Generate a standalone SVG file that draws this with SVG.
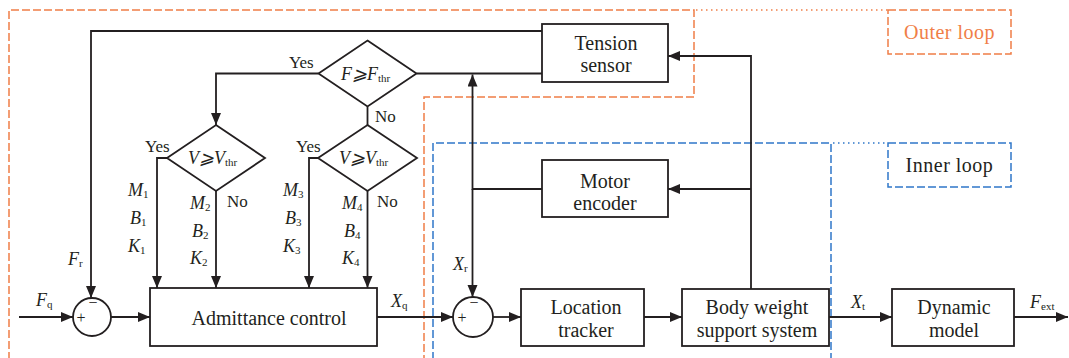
<svg xmlns="http://www.w3.org/2000/svg" width="1069" height="358" viewBox="0 0 1069 358" font-family="'Liberation Serif', Tinos, 'Noto Serif', 'DejaVu Serif', 'Times New Roman', Times, serif">
<defs>
<marker id="ah" markerUnits="userSpaceOnUse" markerWidth="13" markerHeight="11" refX="12" refY="5" orient="auto">
<path d="M0,0 L12,5 L0,10 z" fill="#231f20"/>
</marker>
<style>
.ln{fill:none;stroke:#231f20;stroke-width:1.8}
.bx{fill:#fff;stroke:#231f20;stroke-width:1.8}
.t{font-size:20px;fill:#231f20}
.s{font-size:17px;fill:#231f20}
.m{font-size:18px;font-style:italic;fill:#231f20}
.sub{font-style:normal;font-size:11px}
.or{fill:none;stroke:#f07e47;stroke-width:1.5;stroke-dasharray:8 3}
.ord{fill:none;stroke:#f07e47;stroke-width:1.5;stroke-dasharray:1.5 3.5}
.bl{fill:none;stroke:#2f77c9;stroke-width:1.5;stroke-dasharray:8 3}
.bld{fill:none;stroke:#2f77c9;stroke-width:1.5;stroke-dasharray:1.5 3.5}
</style>
</defs>
<rect width="1069" height="358" fill="#fff"/>

<g id="loops">
<path class="or" d="M9,360 V10 H694 V97 H424 V360"/>
<path class="ord" d="M696,10 H888"/>
<path class="bl" d="M433,360 V143 H831 V360"/>
<path class="bld" d="M833,143 H888"/>
</g>
<g id="outer-loop-label">
<rect class="or" x="888" y="10" width="123" height="44"/>
<text class="t" x="949.5" y="39" text-anchor="middle" style="fill:#f07e47;letter-spacing:0.5px">Outer loop</text>
</g>
<g id="inner-loop-label">
<rect class="bl" x="888" y="143" width="123" height="44"/>
<text class="t" x="949.5" y="172" text-anchor="middle" style="letter-spacing:0.5px">Inner loop</text>
</g>

<g id="connectors">
<path class="ln" d="M19,317 H73" marker-end="url(#ah)"/>
<path class="ln" d="M542,31 H91 V298" marker-end="url(#ah)"/>
<path class="ln" d="M111,317 H150" marker-end="url(#ah)"/>
<path class="ln" d="M416.5,73.5 H542"/>
<path class="ln" d="M318.5,73.5 H216 V125" marker-end="url(#ah)"/>
<path class="ln" d="M367.5,106.5 V125"/>
<path class="ln" d="M167,158 H157 V288" marker-end="url(#ah)"/>
<path class="ln" d="M216,191 V288" marker-end="url(#ah)"/>
<path class="ln" d="M318,158 H309 V288" marker-end="url(#ah)"/>
<path class="ln" d="M367.5,191 V288" marker-end="url(#ah)"/>
<path class="ln" d="M377,317 H453" marker-end="url(#ah)"/>
<path class="ln" d="M542,189 H472.5 V74.5" marker-end="url(#ah)"/>
<path class="ln" d="M472.5,189 V297" marker-end="url(#ah)"/>
<path class="ln" d="M493,317 H521" marker-end="url(#ah)"/>
<path class="ln" d="M644,317 H682" marker-end="url(#ah)"/>
<path class="ln" d="M751,289 V56 H668" marker-end="url(#ah)"/>
<path class="ln" d="M751,189 H668" marker-end="url(#ah)"/>
<path class="ln" d="M829,317 H892" marker-end="url(#ah)"/>
<path class="ln" d="M1014,317 H1068" marker-end="url(#ah)"/>
</g>

<g id="sum1">
<circle class="bx" cx="92" cy="317" r="19"/>
<text class="s" x="81" y="323" text-anchor="middle" style="font-size:16px">+</text>
<text class="s" x="93" y="308" text-anchor="middle" style="font-size:16px">−</text>
</g>
<g id="sum2">
<circle class="bx" cx="473" cy="317" r="20"/>
<text class="s" x="462" y="323" text-anchor="middle" style="font-size:16px">+</text>
<text class="s" x="474" y="308" text-anchor="middle" style="font-size:16px">−</text>
</g>

<g id="admittance">
<rect class="bx" x="150" y="288" width="227" height="58"/>
<text class="t" x="269" y="325" text-anchor="middle">Admittance control</text>
</g>
<g id="tension">
<rect class="bx" x="542" y="24" width="126" height="58"/>
<text class="t" x="606" y="50" text-anchor="middle">Tension</text>
<text class="t" x="606" y="72" text-anchor="middle">sensor</text>
</g>
<g id="motor">
<rect class="bx" x="542" y="160" width="126" height="57"/>
<text class="t" x="605" y="188" text-anchor="middle">Motor</text>
<text class="t" x="605" y="210" text-anchor="middle">encoder</text>
</g>
<g id="location">
<rect class="bx" x="521" y="289" width="123" height="57"/>
<text class="t" x="586" y="314" text-anchor="middle">Location</text>
<text class="t" x="586" y="337" text-anchor="middle">tracker</text>
</g>
<g id="body">
<rect class="bx" x="682" y="289" width="147" height="57"/>
<text class="t" x="757" y="314" text-anchor="middle">Body weight</text>
<text class="t" x="757" y="337" text-anchor="middle">support system</text>
</g>
<g id="dynamic">
<rect class="bx" x="892" y="289" width="122" height="57"/>
<text class="t" x="954" y="314" text-anchor="middle">Dynamic</text>
<text class="t" x="954" y="337" text-anchor="middle">model</text>
</g>

<g id="decisionF">
<polygon class="bx" points="367.5,40.5 416.5,73.5 367.5,106.5 318.5,73.5"/>
<text class="m" x="341" y="80">F⩾F<tspan class="sub" dy="2">thr</tspan></text>
<text class="s" x="289" y="68">Yes</text>
<text class="s" x="375" y="122">No</text>
</g>
<g id="decisionV1">
<polygon class="bx" points="216,125 265,158 216,191 167,158"/>
<text class="m" x="188" y="164">V⩾V<tspan class="sub" dy="2">thr</tspan></text>
<text class="s" x="145" y="152">Yes</text>
<text class="s" x="227" y="207">No</text>
</g>
<g id="decisionV2">
<polygon class="bx" points="367.5,125 417,158 367.5,191 318,158"/>
<text class="m" x="339" y="164">V⩾V<tspan class="sub" dy="2">thr</tspan></text>
<text class="s" x="296" y="152">Yes</text>
<text class="s" x="377" y="207">No</text>
</g>

<g id="labels">
<text class="m" x="128" y="196">M<tspan class="sub" dy="2">1</tspan></text>
<text class="m" x="130" y="224">B<tspan class="sub" dy="2">1</tspan></text>
<text class="m" x="128" y="252">K<tspan class="sub" dy="2">1</tspan></text>
<text class="m" x="190" y="209">M<tspan class="sub" dy="2">2</tspan></text>
<text class="m" x="192" y="237">B<tspan class="sub" dy="2">2</tspan></text>
<text class="m" x="190" y="264">K<tspan class="sub" dy="2">2</tspan></text>
<text class="m" x="283" y="196">M<tspan class="sub" dy="2">3</tspan></text>
<text class="m" x="285" y="224">B<tspan class="sub" dy="2">3</tspan></text>
<text class="m" x="283" y="252">K<tspan class="sub" dy="2">3</tspan></text>
<text class="m" x="342" y="209">M<tspan class="sub" dy="2">4</tspan></text>
<text class="m" x="344" y="237">B<tspan class="sub" dy="2">4</tspan></text>
<text class="m" x="342" y="264">K<tspan class="sub" dy="2">4</tspan></text>
<text class="m" x="36" y="306">F<tspan class="sub" dy="2">q</tspan></text>
<text class="m" x="68" y="265">F<tspan class="sub" dy="2">r</tspan></text>
<text class="m" x="391" y="307">X<tspan class="sub" dy="2">q</tspan></text>
<text class="m" x="453" y="270">X<tspan class="sub" dy="2">r</tspan></text>
<text class="m" x="851" y="308">X<tspan class="sub" dy="2">t</tspan></text>
<text class="m" x="1030" y="308">F<tspan class="sub" dy="2">ext</tspan></text>
</g>
</svg>
